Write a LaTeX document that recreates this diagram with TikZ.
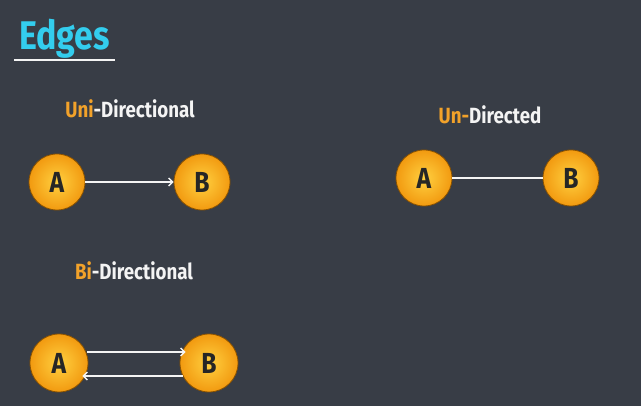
\documentclass[tikz,border=0pt]{standalone}
\usepackage{fontspec}
\setmainfont{Fira Sans}[FakeStretch=0.85,UprightFont=* SemiBold,BoldFont=* Bold]
\usetikzlibrary{arrows.meta}
\definecolor{bg}{HTML}{383D46}
\definecolor{titlecyan}{HTML}{33CDEE}
\definecolor{accent}{HTML}{F2A22A}
\definecolor{txt}{HTML}{F4F4F4}
\definecolor{ballin}{HTML}{FFD040}
\definecolor{ballout}{HTML}{F29A10}
\definecolor{ballrim}{HTML}{8A5200}
\tikzset{
  vert/.style={circle,minimum size=56pt,inner sep=0pt,draw=ballrim,line width=0.8pt,
    inner color=ballin,outer color=ballout,font=\fontsize{29}{29}\selectfont\bfseries,text=black!85},
  heading/.style={font=\fontsize{22}{22}\selectfont\bfseries,text=txt},
  edgeline/.style={draw=txt,line width=1.6pt},
  arr/.style={edgeline,-{Straight Barb[length=4pt,width=8pt,line width=1.4pt]}}
}
\begin{document}
\begin{tikzpicture}[x=1pt,y=-1pt]
\fill[bg] (0,0) rectangle (641,406);
\useasboundingbox (0,0) rectangle (641,406);
% title
\node[anchor=base west,inner sep=0pt,text=titlecyan,font=\fontsize{40}{40}\selectfont\bfseries] (title) at (19,50) {Edges};
\coordinate (ulA) at (14,60);
\coordinate (ulB) at (115,60);
\draw[txt,line width=1.8pt] (ulA) -- (ulB);
% uni-directional
\node[heading] (h1) at (130,109) {\textcolor{accent}{Uni}-Directional};
\node[vert] (a1) at (57,182) {A};
\node[vert] (b1) at (202,182) {B};
\draw[arr] (a1) -- (b1);
% un-directed
\node[heading] (h2) at (490,115) {\textcolor{accent}{Un-}Directed};
\node[vert] (a2) at (424,178) {A};
\node[vert] (b2) at (571,178) {B};
\draw[edgeline] (a2) -- (b2);
% bi-directional
\node[heading] (h3) at (134,271) {\textcolor{accent}{Bi}-Directional};
\node[vert,minimum size=58pt] (a3) at (59,363) {A};
\node[vert,minimum size=58pt] (b3) at (209,363) {B};
\draw[arr] ([yshift=11pt,xshift=-1pt]a3.east) -- ([yshift=11pt,xshift=6pt]b3.west);
\draw[arr] ([yshift=-13pt,xshift=3pt]b3.west) -- ([yshift=-13pt,xshift=-6pt]a3.east);
\end{tikzpicture}
\end{document}
